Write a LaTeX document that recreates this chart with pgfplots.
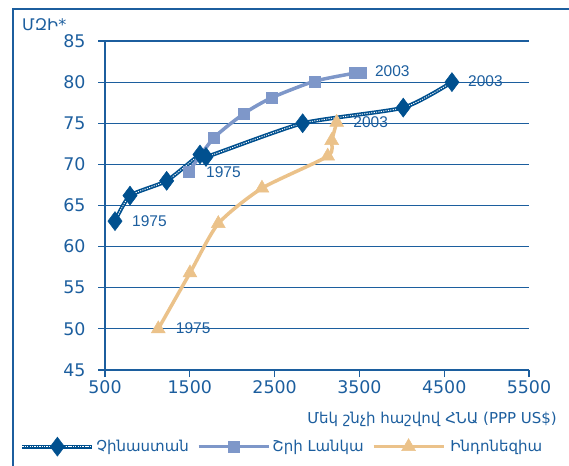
\documentclass[border=0pt]{standalone}
\usepackage{fontspec}
\setmainfont{Liberation Sans}
\newfontfamily\armfont{DejaVu Sans}
\usepackage{pgfplots}
\pgfplotsset{compat=1.18}

\definecolor{axblue}{RGB}{28,94,158}
\definecolor{chinablue}{RGB}{0,80,143}
\definecolor{lankablue}{RGB}{126,151,201}
\definecolor{indosand}{RGB}{235,194,138}

\begin{document}
\begin{tikzpicture}
\begin{axis}[
  at={(105pt,-370pt)}, anchor=south west,
  scale only axis, width=424pt, height=329pt,
  xmin=500, xmax=5500, ymin=45, ymax=85,
  xtick={500,1500,...,5500}, ytick={45,50,...,85},
  axis x line*=bottom, axis y line*=left,
  axis line style={axblue, line width=1.2pt, -},
  tick style={axblue, line width=1.2pt},
  tick align=outside, major tick length=7pt,
  ymajorgrids, grid style={axblue, line width=1.2pt},
  ticklabel style={font=\armfont\fontsize{17.4}{17.4}\selectfont, text=axblue},
  yticklabel style={xshift=-9pt},
  /pgf/number format/assume math mode=true,
  /pgf/number format/1000 sep={},
  scaled ticks=false,
  clip=false,
  legend columns=3,
  legend style={at={(-0.2,-0.233)}, anchor=west, draw=none, fill=none, inner sep=0pt,
    font=\armfont\fontsize{15}{15}\selectfont, text=axblue,
    /tikz/every even column/.append style={column sep=6pt}},
  legend image code/.code={\draw[mark repeat=2,mark phase=2,#1] plot coordinates {(0pt,0pt) (35pt,0pt) (70pt,0pt)};},
]
% China
\addplot[chinablue, line width=4pt, smooth, tension=0.35,
  mark=diamond*, mark size=9.5pt,
  mark options={solid, fill=chinablue, draw=chinablue, line width=0.5pt},
  postaction={draw=white, line width=0.9pt, dash pattern=on 1.2pt off 1.2pt}]
  coordinates {(618,63.1) (795,66.2) (1227,68.0) (1620,71.2) (1691,70.9) (2831,75.0) (4017,76.9) (4591,80.0)};
\addlegendentry{Չինաստան}
% Sri Lanka
\addplot[lankablue, line width=3.5pt, smooth, tension=0.4,
  mark=square*, mark size=5.5pt,
  mark options={solid, fill=lankablue, draw=lankablue, line width=0.5pt}]
  coordinates {(1487,69.1) (1782,73.2) (2142,76.2) (2465,78.1) (2968,80.1) (3448,81.1) (3518,81.2)};
\addlegendentry{Շրի Լանկա\hspace{17pt}}
% Indonesia
\addplot[indosand, line width=3.5pt, smooth, tension=0.4,
  mark=triangle*, mark size=8pt,
  mark options={solid, fill=indosand, draw=indosand, line width=0.5pt}]
  coordinates {(1128,50.0) (1502,56.8) (1836,62.8) (2351,67.1) (3126,71.0) (3173,72.9) (3232,75.1)};
\addlegendentry{\hspace{3pt}Ինդոնեզիա}

\node[anchor=west, inner sep=0pt, text=axblue, font=\fontsize{15.5}{15.5}\selectfont] at (axis cs:818,63.1) {1975};
\node[anchor=west, inner sep=0pt, text=axblue, font=\fontsize{15.5}{15.5}\selectfont] at (axis cs:1691,69.1) {1975};
\node[anchor=west, inner sep=0pt, text=axblue, font=\fontsize{15.5}{15.5}\selectfont] at (axis cs:1334,50.1) {1975};
\node[anchor=west, inner sep=0pt, text=axblue, font=\fontsize{15.5}{15.5}\selectfont] at (axis cs:4780,80.1) {2003};
\node[anchor=west, inner sep=0pt, text=axblue, font=\fontsize{15.5}{15.5}\selectfont] at (axis cs:3683,81.35) {2003};
\node[anchor=west, inner sep=0pt, text=axblue, font=\fontsize{15.5}{15.5}\selectfont] at (axis cs:3427,75.1) {2003};
\end{axis}
\node[anchor=west, inner sep=0pt, text=axblue, font=\armfont\fontsize{16}{16}\selectfont] at (22pt,-25pt) {ՄԶԻ*};
\node[anchor=east, inner sep=0pt, text=axblue, font=\armfont\fontsize{15}{15}\selectfont] at (557pt,-419pt) {Մեկ շնչի հաշվով ՀՆԱ (PPP US\$)};
\draw[axblue, line width=1.5pt] (13pt,-9pt) rectangle (620pt,-520pt);
\pgfresetboundingbox
\path[use as bounding box] (0pt,0pt) rectangle (569pt,-465pt);
\end{tikzpicture}
\end{document}
